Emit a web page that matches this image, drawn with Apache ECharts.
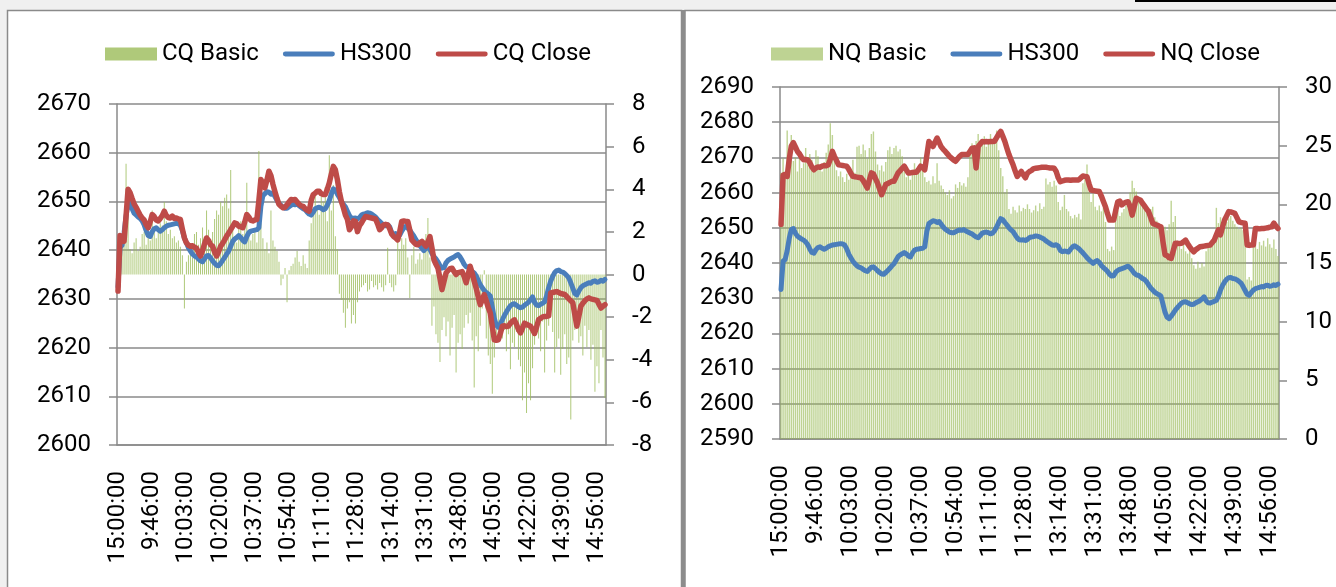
<!DOCTYPE html>
<html>
<head>
<meta charset="utf-8">
<script src="https://cdn.jsdelivr.net/npm/echarts@6/dist/echarts.min.js"></script>
<style>
html,body{margin:0;padding:0;background:#f0f0f0;}
#chart{width:1336px;height:587px;}
</style>
</head>
<body>
<div id="chart"></div>
<script>
// ---- categories: previous close (15:00) then the trading minutes ----
function fmt(m){ var h=Math.floor(m/60), mm=m%60; return h+':'+(mm<10?'0':'')+mm+':00'; }
var categories=['15:00:00'];
for(var m=9*60+30;m<=11*60+30;m++) categories.push(fmt(m));
for(var m2=13*60;m2<=15*60;m2++) categories.push(fmt(m2));

var leftTicks=[2600,2610,2620,2630,2640,2650,2660,2670];
var rightTicksLeftChart=[-8,-6,-4,-2,0,2,4,6,8];
var leftTicksRightChart=[2590,2600,2610,2620,2630,2640,2650,2660,2670,2680,2690];
var rightTicksRightChart=[0,5,10,15,20,25,30];

var hs300=[2632.5,2640.5,2641,2643.5,2647,2649.5,2649.8,2648.5,2647.6,2647.2,
2646.8,2646.5,2646,2645.2,2644,2643,2642.8,2643.8,2644.4,2644.6,
2644.2,2643.9,2644.2,2644.6,2644.9,2645.1,2645.2,2645.3,2645.4,2645.5,
2645.4,2645.1,2644,2642.5,2641.5,2640.5,2639.8,2639.2,2638.8,2638.6,
2638.2,2637.8,2637.6,2638.2,2638.8,2638.9,2638.4,2637.8,2637.3,2636.9,
2636.8,2637.3,2637.9,2638.5,2639.2,2639.8,2640.8,2641.8,2642.3,2642.6,
2643,2642.6,2642,2641.7,2642.8,2643.6,2643.9,2644,2644.1,2644.2,
2644.6,2649,2651.2,2651.6,2652,2651.9,2651.5,2651.8,2651,2650.2,
2649.6,2649.2,2648.8,2648.6,2648.6,2648.9,2649.2,2649.4,2649.3,2649.5,
2649.1,2648.8,2648.5,2648.3,2647.8,2647.4,2647.2,2647.8,2648.5,2648.7,
2648.8,2648.6,2648.3,2648.5,2649.2,2650.2,2651.5,2652.6,2652.3,2651.5,
2650.8,2650,2649.4,2648.9,2648,2647.1,2646.6,2646.5,2646.6,2646.4,
2646.7,2647.2,2647.4,2647.5,2647.7,2647.6,2647.4,2647.1,2646.8,2646.3,
2645.9,2645.5,2645.1,2645,2645.2,2644.8,2643.6,2643.2,2643.4,2643.3,
2643.1,2643.9,2644.6,2644.9,2644.5,2644.1,2643.5,2642.9,2642.2,2641.5,
2640.9,2640.4,2639.9,2640.4,2640.7,2640.2,2639.3,2638.7,2638.2,2637.6,
2636.8,2636.3,2636.4,2637.4,2637.9,2638.2,2638.4,2638.6,2638.9,2639.1,
2638.6,2637.9,2637.1,2636.6,2636.5,2636.1,2635.6,2635.3,2634.7,2633.8,
2632.9,2632.3,2631.7,2631.3,2631,2630.6,2628.3,2626,2624.6,2624.2,
2624.9,2625.7,2626.6,2627.3,2628,2628.6,2628.9,2629,2628.7,2628.4,
2628.2,2628.3,2628.7,2629,2629.3,2629.8,2630.4,2629.3,2628.7,2628.6,
2628.9,2629.1,2629.4,2630.6,2632.3,2633.6,2634.6,2635.4,2635.8,2635.9,
2635.6,2635.5,2635.2,2634.8,2634.3,2633.3,2632.2,2631.1,2630.8,2631.6,
2632.3,2632.7,2632.9,2633.1,2633.3,2633.2,2633.6,2633.7,2633.4,2633.5,
2633.8,2633.6,2634];

var cqClose=[2631.6,2643,2642.6,2641.8,2647,2652.5,2651.8,2650.6,2649.5,2648.8,
2648,2647.2,2646.6,2646.2,2645.2,2644.6,2645.8,2647.3,2646.9,2646.2,
2646,2646.5,2647.1,2648,2647.1,2646.7,2646.6,2647,2646.5,2646.6,
2646.4,2646.3,2644.3,2642.5,2641.5,2641,2640.8,2640.9,2640.6,2640.4,
2639.5,2638.8,2639.9,2641.3,2642.5,2642,2641.1,2640.8,2639.6,2638.8,
2639.7,2640.8,2641.4,2642.1,2642.9,2643.5,2644.2,2644.9,2645.6,2645.4,
2644.9,2644.8,2644.6,2645.8,2647.3,2646.8,2646.1,2646,2646.2,2646.3,
2650.2,2654.5,2653.6,2652.8,2654.4,2656.2,2655.3,2653.5,2652,2650.6,
2649.4,2649,2648.7,2648.8,2649.3,2649.9,2650.4,2650.3,2650.4,2649.9,
2649.4,2649.1,2649,2648.5,2648.2,2648,2650.2,2651.4,2651.7,2652.1,
2652.1,2651.6,2651.4,2651.4,2652.5,2653.8,2655.6,2657.2,2656.5,2654.5,
2652,2650,2648.7,2647.2,2646.3,2644.2,2644.8,2646,2645.9,2643.8,
2645,2645.6,2646.3,2646.9,2646.8,2646.7,2646.6,2646.5,2646.4,2645.4,
2644.2,2644.6,2645.2,2645.3,2645.2,2644.4,2643.3,2642.8,2642.5,2642.1,
2643.8,2645.9,2646,2645.9,2645.9,2644.1,2642.1,2641.6,2641.2,2641.1,
2641.5,2641.8,2641.3,2640.8,2641.7,2642.8,2640.5,2638,2637.1,2636.3,
2634.2,2631.9,2633.6,2635.3,2635.8,2636.2,2636.3,2635.6,2635,2635.4,
2635.5,2635.6,2634.6,2633.3,2635,2636.7,2635.3,2633.6,2632.2,2630.4,
2628.8,2629.8,2630.9,2629.6,2628.2,2627.1,2624.3,2621.6,2621.5,2621.6,
2622.9,2624.4,2624.5,2624.3,2624.4,2625,2625.4,2625.7,2624.8,2623.7,
2623,2624,2625,2624.8,2624.6,2624.4,2623.7,2622.9,2624.2,2625.7,
2626,2626.3,2626.4,2626.4,2626.5,2631.2,2631.3,2631.4,2631.5,2631.3,
2631.1,2631,2630.9,2630.5,2630,2629.6,2629.2,2626.8,2624.4,2626.4,
2628.5,2629.1,2629.6,2630,2630.2,2630,2629.9,2629.8,2629.7,2628.9,
2628.1,2628.5,2628.8];

var nqClose=[2651,2665,2665.2,2664.6,2669.5,2673.2,2674.2,2673,2671.7,2671,
2670,2669.3,2669.4,2669.3,2668.5,2667.3,2666.5,2667,2667.3,2667.2,
2667.5,2667.7,2667.6,2667.9,2669.5,2671.7,2670.3,2669.1,2667.9,2667.8,
2667.7,2667.6,2667.5,2666.6,2665.5,2664.6,2664.5,2664.4,2664.3,2664.2,
2663.4,2662.4,2661.3,2663.5,2665.6,2665.3,2664,2662.7,2661,2659.4,
2660.8,2662.3,2662.6,2662.9,2663.2,2663.2,2664.4,2665.6,2666.2,2666.9,
2667.5,2666.5,2665.6,2665.6,2665.7,2665.8,2665.8,2666.6,2667.5,2667.1,
2666.5,2670.5,2674.5,2673.8,2673.1,2674.3,2675.5,2674.3,2673,2672.3,
2671.7,2671,2670.3,2669.8,2669.3,2668.9,2669.6,2670.3,2670.8,2670.8,
2670.8,2670.8,2671.7,2672.6,2672.7,2667,2673.1,2673.8,2674.5,2674.4,
2674.5,2674.4,2674.5,2674.5,2674.6,2675.6,2676.6,2677.4,2676,2674.5,
2672.6,2670.8,2669.3,2667.9,2666.2,2664.6,2665.3,2666,2665.1,2664.2,
2665.5,2666,2666.3,2666.8,2666.9,2667,2667.1,2667.2,2667.2,2667.2,
2667.1,2667,2667,2666.9,2666,2664.2,2663.1,2663.3,2663.5,2663.6,
2663.6,2663.5,2663.6,2663.6,2663.6,2663.6,2664.2,2664.7,2664.6,2664.5,
2662.5,2660.7,2660.6,2660.5,2660.4,2660.3,2659,2657.5,2656,2654,
2652.2,2652.3,2652.2,2655,2657.4,2657.6,2656.5,2657,2657.3,2657.4,
2656,2653.6,2656,2658.4,2658.1,2657.9,2657,2656.2,2655.4,2654.6,
2653,2651.3,2651,2650.8,2650.5,2650.3,2646,2642.3,2642.1,2641.5,
2641.3,2643.5,2645.6,2645.6,2645.5,2645.6,2646,2646.5,2645.5,2644.6,
2643.8,2643.2,2643.8,2644.2,2644.6,2644.7,2644.8,2644.9,2645,2645.1,
2645.8,2646.5,2648,2649.4,2648,2650.2,2652.2,2653.4,2654.6,2654.5,
2654.3,2654.1,2652.9,2651.7,2651.5,2651.4,2651.3,2645.1,2645,2645.1,
2645.1,2649.8,2649.8,2649.7,2649.8,2649.8,2649.9,2650,2650.2,2650.3,
2651.3,2650.5,2649.8];

var cqBasic=[1.2,1.0,1.4,1.5,5.2,3.5,1.2,1.0,1.5,1.7,
1.1,1.3,1.9,2.0,1.4,1.8,1.6,3.0,2.1,1.7,
2.2,2.4,2.3,3.4,2.5,1.9,2.1,1.7,1.8,1.5,
1.6,1.3,0.9,-1.6,0.6,0.9,1.2,0.8,1.9,2.0,
1.4,1.7,2.2,1.3,3.0,2.1,1.6,2.0,2.6,3.0,
2.8,3.4,3.2,3.6,3.75,3.1,4.9,2.4,1.8,1.5,
2.2,2.5,1.9,2.3,4.3,2.1,1.6,1.9,2.0,1.5,
5.8,2.4,1.7,1.2,1.5,1.0,3.0,1.6,1.3,1.1,
0.6,-0.5,-0.2,0.3,-1.3,0.2,0.4,0.5,0.8,1.1,
0.6,0.4,0.9,0.5,0.3,1.6,2.4,2.9,3.75,3.2,
2.8,3.7,3.4,4.1,2.5,5.6,3.0,4.2,1.8,1.2,
-0.9,-1.2,-1.8,-2.5,-1.6,-1.3,-2.3,-1.9,-2.3,-1.3,
-0.8,-0.6,-0.5,-0.4,-0.8,-0.7,-0.3,-0.6,-0.5,-0.7,
-0.4,-0.6,-0.8,-0.5,1.25,-0.4,-0.6,-0.8,-0.5,1.6,
1.2,1.7,1.4,1.7,0.8,-1.1,0.9,1.3,0.5,0.7,
1.0,0.7,1.6,1.9,2.65,0.8,-2.4,-1.5,-2.8,-3.2,
-4.1,-2.6,-2.0,-2.9,-2.2,-3.8,-2.5,-1.9,-4.6,-3.2,
-2.8,-3.5,-2.5,-1.9,-2.3,-1.8,-3.1,-5.3,-2.9,-3.6,
-2.4,-1.6,0.2,-3.0,-3.8,-4.2,-5.6,-3.9,-3.2,-2.9,
-2.4,-3.0,-2.6,-3.6,-2.8,-4.45,-3.2,-3.4,-2.7,-4.0,
-4.3,-5.9,-4.6,-6.5,-5.1,-5.9,-4.4,-3.3,-2.6,-3.0,
-3.6,-2.2,-4.6,-3.1,-2.4,-1.5,-2.7,-4.6,-3.4,-3.0,
-4.7,-3.5,-2.8,-4.2,-3.9,-6.8,-3.1,-2.6,-2.3,-3.2,
-2.9,-3.8,-2.4,-3.4,-2.6,-4.0,-3.3,-5.5,-4.3,-5.1,
-2.6,-3.9,-5.8];

var nqBasic=[22.7,23.9,22.5,26.3,24.6,25.9,23.7,24.0,22.8,24.2,
23.1,23.5,24.8,23.4,24.3,23.8,22.9,24.6,24.1,23.2,
22.8,23.6,24.4,25.1,26.9,25.9,24.2,22.9,22.4,22.8,
22.3,21.9,22.6,22.1,22.9,23.8,22.7,24.9,25.0,24.3,
25.1,24.6,23.9,24.8,26.0,26.2,24.5,23.4,22.9,23.3,
22.8,23.6,24.6,24.9,24.3,24.8,25.0,24.5,24.7,24.1,
22.8,22.3,22.6,22.1,22.9,23.5,22.7,23.2,24.0,23.4,
22.3,21.9,22.0,21.7,22.4,21.8,23.5,22.0,21.6,21.3,
21.0,20.8,21.2,20.5,20.7,21.7,21.4,21.9,21.6,21.8,
21.5,22.3,24.3,25.2,24.8,25.4,26.0,25.1,25.5,25.8,
24.9,25.6,26.0,25.3,25.7,26.3,24.6,23.1,22.4,21.0,
21.3,19.6,19.2,19.8,19.5,19.3,19.9,19.4,19.7,19.6,
20.0,19.6,19.3,19.5,19.9,19.4,20.1,19.6,19.8,22.2,
21.7,21.9,21.5,22.0,21.6,20.2,19.5,19.8,20.8,19.6,
19.4,19.0,18.8,19.1,18.9,19.2,18.7,21.8,22.2,23.4,
21.1,20.2,20.9,19.8,19.5,19.9,19.4,19.7,18.5,16.2,
16.0,16.4,16.1,19.2,19.5,19.0,19.3,19.6,19.9,20.3,
21.0,22.0,21.4,21.1,20.6,20.1,20.4,19.8,19.3,19.0,
19.6,19.8,18.9,18.6,18.2,18.0,17.6,18.1,17.8,18.3,
20.3,18.5,19.0,16.9,16.4,16.2,16.6,16.0,15.8,16.1,
15.4,14.8,14.5,15.1,14.6,15.0,14.7,16.0,16.3,16.8,
16.5,17.0,19.7,18.4,18.9,18.2,18.7,18.5,18.8,19.0,
18.6,18.3,18.1,17.9,18.0,17.8,18.2,13.6,13.8,13.5,
16.3,16.7,16.2,16.8,16.5,16.9,16.4,17.1,16.6,16.3,
17.0,16.2,15.6];

var FONT='Roboto';
var GRAY='#8a8a8a';
var BLUE='#4a7ebb';
var RED='#be4b48';
var GREEN='#9bbb59';
// thick line legend icon inside a 52x13 box (tiny corner marks keep the box size)
var LINE_ICON='path://M0,0L0.01,0L0.01,0.01Z M0,13L0.01,13L0.01,12.99Z M2,4 L50,4 A2.5,2.5 0 0 1 50,9 L2,9 A2.5,2.5 0 0 1 2,4 Z';

function xAxis(gi){
  return {
    type:'category', gridIndex:gi, data:categories, boundaryGap:true,
    axisLine:{onZero:false, lineStyle:{color:GRAY,width:1.5}},
    axisTick:{interval:0,length:8,lineStyle:{color:'#7a7a7a',width:1.1}},
    axisLabel:{interval:16,rotate:90,margin:26,color:'#000',fontFamily:FONT,fontSize:24},
    splitLine:{show:false}
  };
}
function yAxis(gi,ticks,pos,grid){
  return {
    type:'value', gridIndex:gi, position:pos,
    min:ticks[0], max:ticks[ticks.length-1], interval:ticks[1]-ticks[0],
    axisLine:{show:true,lineStyle:{color:GRAY,width:1.5}},
    axisTick:{show:true,length:8,lineStyle:{color:GRAY,width:1.5}},
    axisLabel:{margin:26,color:'#000',fontFamily:FONT,fontSize:24,
      formatter:function(v){return String(v);}},
    splitLine:{show:grid,lineStyle:{color:GRAY,width:1.5}}
  };
}
function legend(left,names){
  return {
    left:left, top:37, itemWidth:52, itemHeight:13, itemGap:24,
    textStyle:{fontFamily:FONT,fontSize:24,color:'#000'},
    data:[{name:names[0],icon:'rect'},{name:names[1],icon:LINE_ICON},{name:names[2],icon:LINE_ICON}]
  };
}

var chart=echarts.init(document.getElementById('chart'));
chart.setOption({
  animation:false,
  backgroundColor:'#f0f0f0',
  graphic:[
    {type:'rect',z:-10,shape:{x:7.5,y:10.5,width:674,height:590},style:{fill:'#fff',stroke:GRAY,lineWidth:1.5}},
    {type:'rect',z:-10,shape:{x:685,y:10.5,width:660,height:590},style:{fill:'#fff',stroke:GRAY,lineWidth:1.5}},
    {type:'rect',z:-9,shape:{x:681,y:10,width:4,height:590},style:{fill:'#8c8c8c'}},
    {type:'line',z:-9,shape:{x1:1135,y1:1,x2:1336,y2:1},style:{stroke:'#000',lineWidth:2}}
  ],
  legend:[
    legend(100,['CQ Basic','HS300','CQ Close']),
    legend(766,['NQ Basic','HS300','NQ Close'])
  ],
  grid:[
    {left:117,top:104,width:489,height:341,outerBoundsMode:'none'},
    {left:780,top:87,width:499,height:352,outerBoundsMode:'none'}
  ],
  xAxis:[xAxis(0),xAxis(1)],
  yAxis:[
    yAxis(0,leftTicks,'left',true),
    yAxis(0,rightTicksLeftChart,'right',false),
    yAxis(1,leftTicksRightChart,'left',true),
    yAxis(1,rightTicksRightChart,'right',false)
  ],
  series:[
    {name:'CQ Basic',type:'bar',xAxisIndex:0,yAxisIndex:1,data:cqBasic,barWidth:1,
      itemStyle:{color:GREEN,opacity:0.8}},
    {name:'HS300',type:'line',xAxisIndex:0,yAxisIndex:0,data:hs300,symbol:'none',
      lineStyle:{color:BLUE,width:5,join:'round',cap:'round'},itemStyle:{color:BLUE}},
    {name:'CQ Close',type:'line',xAxisIndex:0,yAxisIndex:0,data:cqClose,symbol:'none',
      lineStyle:{color:RED,width:5.5,join:'round',cap:'round'},itemStyle:{color:RED}},
    {name:'NQ Basic',type:'bar',xAxisIndex:1,yAxisIndex:3,data:nqBasic,barWidth:1.4,
      itemStyle:{color:GREEN,opacity:0.65}},
    {name:'HS300',type:'line',xAxisIndex:1,yAxisIndex:2,data:hs300,symbol:'none',
      lineStyle:{color:BLUE,width:5,join:'round',cap:'round'},itemStyle:{color:BLUE}},
    {name:'NQ Close',type:'line',xAxisIndex:1,yAxisIndex:2,data:nqClose,symbol:'none',
      lineStyle:{color:RED,width:5.5,join:'round',cap:'round'},itemStyle:{color:RED}}
  ]
});
</script>
</body>
</html>
